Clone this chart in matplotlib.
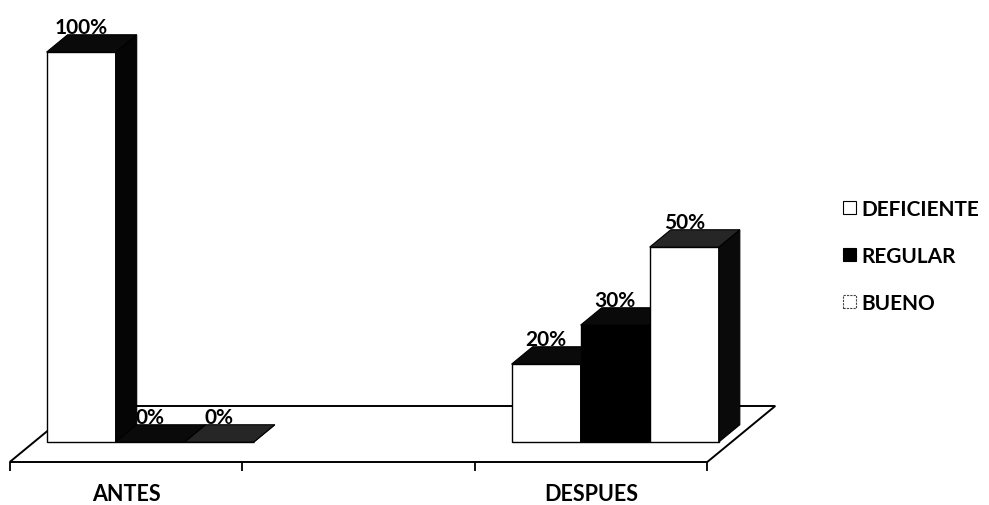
import numpy as np
import matplotlib.pyplot as plt
from matplotlib.patches import Polygon, Patch

plt.rcParams['font.family'] = ['Lato', 'DejaVu Sans']

categorias = ["ANTES", "", "DESPUES"]
series = ["DEFICIENTE", "REGULAR", "BUENO"]
deficiente = [100, np.nan, 20]
regular = [0, np.nan, 30]
bueno = [0, np.nan, 50]
valores = [deficiente, regular, bueno]

color_frente = ["white", "black", "white"]
color_arriba = ["#0a0a0a", "#0a0a0a", "#262626"]
color_lado = ["#050505", "#050505", "#0a0a0a"]

# pseudo 3D: depth of the floor expressed in data units
DX, DY = 0.2925, 14.36
d0, d1 = 0.355, 0.665
ancho = 0.297

fig = plt.figure(figsize=(9.89, 5.06), dpi=100)
ax = fig.add_axes([0, 0, 1, 1])
ax.set_xlim(-126 / 232.5, (989 - 126) / 232.5)
ax.set_ylim((463 - 506) / 3.9, 463 / 3.9)
ax.axis('off')

# floor
n = len(categorias)
piso = [(-0.5, 0), (n - 0.5, 0), (n - 0.5 + DX, DY), (-0.5 + DX, DY)]
ax.add_patch(Polygon(piso, closed=True, facecolor='white', edgecolor='black', lw=1.4, zorder=1))
ax.vlines(np.arange(n + 1) - 0.5, -2.2, 0, color='black', lw=1.3, zorder=1)

for i, cat in enumerate(categorias):
    ax.text(i, -8.2, cat, ha='center', va='center', fontsize=15.5, fontweight='bold')

dx = (d1 - d0) * DX
dy = (d1 - d0) * DY
z = 3
for i in range(n):
    for j, serie in enumerate(valores):
        v = serie[i]
        if np.isnan(v):
            continue
        xc = i + (j - 1) * ancho + d0 * DX
        base = d0 * DY
        xl, xr = xc - ancho / 2, xc + ancho / 2
        ax.bar(xc, v, width=ancho, bottom=base, color=color_frente[j],
               edgecolor='black', lw=1.0, zorder=z)
        arriba = [(xl, base + v), (xr, base + v), (xr + dx, base + v + dy), (xl + dx, base + v + dy)]
        lado = [(xr, base), (xr, base + v), (xr + dx, base + v + dy), (xr + dx, base + dy)]
        ax.add_patch(Polygon(lado, closed=True, facecolor=color_lado[j], edgecolor='black', lw=0.8, zorder=z))
        ax.add_patch(Polygon(arriba, closed=True, facecolor=color_arriba[j], edgecolor='black', lw=0.8, zorder=z))
        ax.text(xc, v + d1 * DY + 0.5, f"{v:.0f}%", ha='center', va='baseline',
                fontsize=15, fontweight='bold', zorder=2.5)
        z += 1

handles = [
    Patch(facecolor='white', edgecolor='black', lw=0.8),
    Patch(facecolor='black', edgecolor='black', lw=0.8),
    Patch(facecolor='white', edgecolor='#444444', lw=0.8, linestyle=(0, (2, 1))),
]
fig.legend(handles, series, loc='center left', bbox_to_anchor=(843 / 989, 1 - 257 / 506),
           frameon=False, prop={'family': 'Lato', 'weight': 'bold', 'size': 15},
           handlelength=0.6, handleheight=0.6, handletextpad=0.3, labelspacing=1.3,
           borderpad=0, borderaxespad=0)

fig.savefig('out.png', dpi=100)
